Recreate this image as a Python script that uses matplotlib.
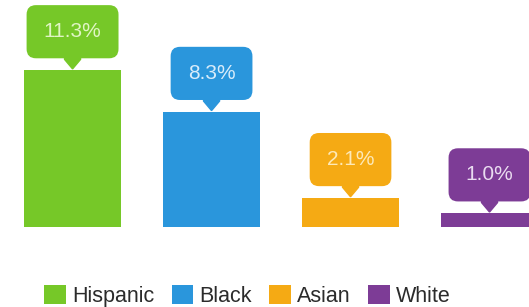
import numpy as np
import matplotlib.pyplot as plt
from matplotlib.patches import Patch, Polygon

# ---- data ----
groups = ["Hispanic", "Black", "Asian", "White"]
rates = [11.3, 8.3, 2.1, 1.0]
labels = ["11.3%", "8.3%", "2.1%", "1.0%"]
colors = ["#76c828", "#2a96dc", "#f5aa14", "#7d3c96"]
text_colors = ["#e0f5c4", "#d8ecfa", "#fde9b8", "#eadcf0"]

plt.rcParams["font.family"] = ["Liberation Sans", "DejaVu Sans"]

fig = plt.figure(figsize=(5.29, 3.07), dpi=100)
ax = fig.add_axes([0, 0, 1, 1])
ax.axis("off")

x = np.arange(len(groups))
ax.bar(x, rates, width=0.7, color=colors)

# axis limits chosen so the chart sits like the original
ax.set_xlim(-0.522, 3.284)
ax.set_ylim(-5.76, 16.33)

# ---- callouts ----
for xi, val, lab, col, tcol in zip(x, rates, labels, colors, text_colors):
    px, py = ax.transData.transform((xi, val))
    # pointer (in pixels)
    tri = Polygon([(px - 8, py + 22), (px + 8, py + 22), (px + 8, py + 10.5),
                   (px, py + 1), (px - 8, py + 10.5)],
                  closed=True, transform=None, color=col, zorder=3)
    fig.add_artist(tri)
    ax.annotate(lab, xy=(xi, val), xytext=(0, 27.5), textcoords="offset points",
                ha="center", va="center", fontsize=15, color=tcol, zorder=4,
                bbox=dict(boxstyle="round,pad=0.82,rounding_size=0.45",
                          fc=col, ec="none"))

# ---- legend ----
handles = [Patch(facecolor=c, edgecolor="none") for c in colors]
fig.legend(handles, groups, loc="center", bbox_to_anchor=(0.468, 0.036),
           ncol=4, frameon=False, fontsize=15.5, handlelength=1.0,
           handleheight=1.0, handletextpad=0.3, columnspacing=0.8,
           labelcolor="#2b2b2b", borderaxespad=0)

fig.savefig("out.png", dpi=100)
